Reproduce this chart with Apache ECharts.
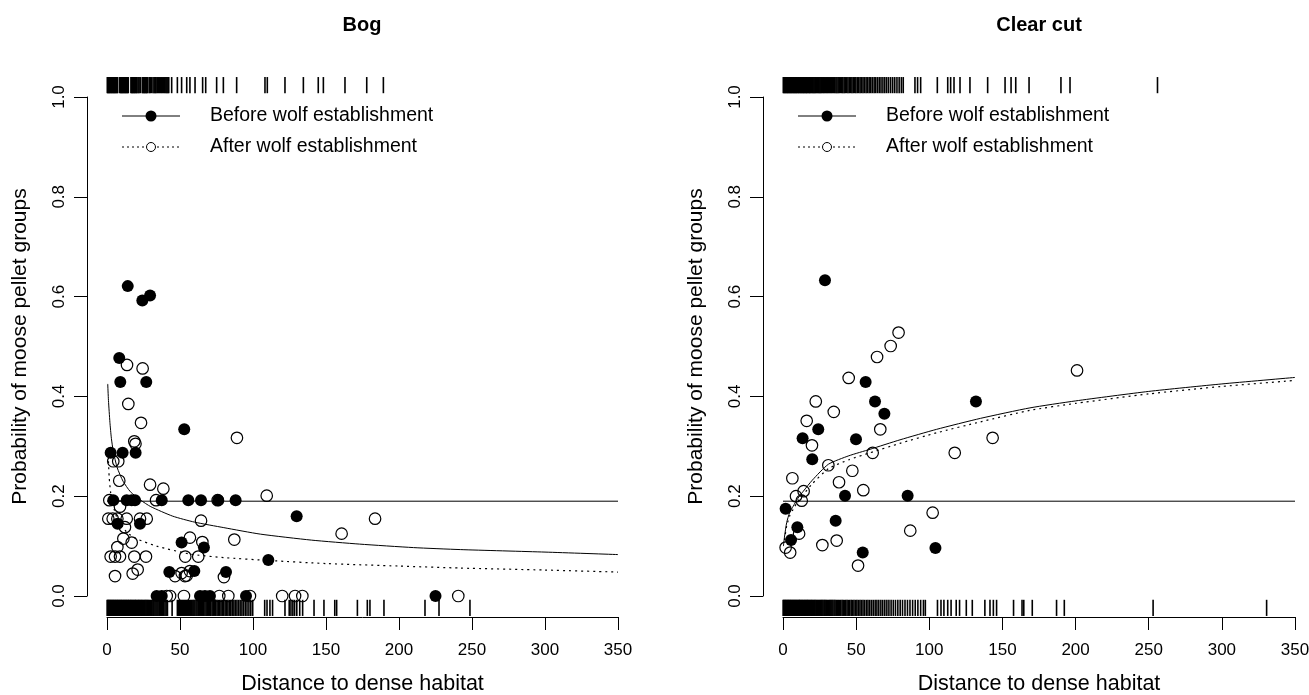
<!DOCTYPE html>
<html>
<head>
<meta charset="utf-8">
<script src="https://cdn.jsdelivr.net/npm/echarts@6/dist/echarts.min.js"></script>
<style>
  html, body { margin: 0; padding: 0; background: #fff; }
  #chart { width: 1309px; height: 695px; }
</style>
</head>
<body>
<div id="chart"></div>
<script>
// ---- Bog ----
const bogBefore = [
  [2.5,0.287],[10.7,0.287],[19.6,0.287],[14.2,0.621],[24.2,0.592],[29.5,0.602],[8.4,0.477],[9.1,0.429],[26.9,0.429],[52.9,0.334],
  [4.3,0.192],[13.5,0.192],[16.9,0.192],[19.2,0.192],[37.5,0.192],[55.7,0.192],[64.4,0.192],[76.2,0.192],[88.1,0.192],
  [7.3,0.145],[22.6,0.145],[129.9,0.16],[51.1,0.107],[66.4,0.097],[110.5,0.072],[42.7,0.048],[59.8,0.05],[81.5,0.048],
  [34,0],[37.5,0],[63.7,0],[67.1,0],[70.5,0],[95.2,0],[225,0]
];
const bogAfter = [
  [13.7,0.463],[24.4,0.456],[14.6,0.385],[23.3,0.347],[18.7,0.31],[19.5,0.305],[89,0.317],
  [4.3,0.27],[7.7,0.27],[8.4,0.231],[29.5,0.223],[38.6,0.215],[109.4,0.201],
  [1.6,0.192],[33.6,0.192],[75.8,0.192],[8.9,0.179],
  [0.9,0.155],[3.9,0.155],[7.1,0.155],[13.5,0.155],[22.6,0.155],[27.2,0.155],[64.4,0.151],[183.6,0.155],
  [12.3,0.138],[11.2,0.115],[16.9,0.107],[7.1,0.098],[56.8,0.117],[87.2,0.113],[65.3,0.108],[160.7,0.125],
  [2.5,0.079],[5.5,0.079],[8.9,0.079],[18.7,0.079],[26.7,0.079],[53.6,0.079],[62.5,0.079],
  [21,0.053],[17.6,0.045],[5.5,0.04],[46.6,0.04],[51.1,0.046],[53.4,0.04],[54.6,0.041],[56.8,0.05],[80.1,0.038],
  [40.9,0],[43.2,0],[52.7,0],[76.9,0],[83.1,0],[97.9,0],[120,0],[128.8,0],[133.8,0],[240.6,0]
];
const bogCurveBefore = [
  [0.5,0.425],[1,0.392],[2,0.348],[3,0.316],[4.3,0.29],[7,0.257],[11,0.23],[16,0.209],[22.6,0.193],[30,0.179],
  [45,0.16],[60,0.148],[80,0.137],[105,0.124],[140,0.112],[173,0.104],[210,0.097],[242,0.093],[300,0.088],[350,0.083]
];
const bogCurveAfter = [
  [1,0.27],[1.5,0.238],[2.5,0.207],[4.3,0.18],[7,0.156],[13.5,0.128],[20,0.115],[34,0.1],[57,0.084],
  [80,0.077],[112,0.071],[150,0.065],[200,0.06],[242,0.056],[300,0.052],[350,0.048]
];
const bogRugTop = [
  0.2,0.6,1.0,1.4,1.9,2.3,2.8,3.2,3.7,4.1,4.6,5.0,5.5,5.9,6.4,6.9,7.3,8.7,9.2,9.6,10.1,10.5,11.0,11.4,
  11.9,12.3,12.8,13.2,13.7,14.2,14.6,16.4,16.9,17.3,17.8,18.2,18.7,19.1,19.6,20.1,20.5,21.3,22.0,22.9,
  24.2,24.6,25.1,25.5,26.0,26.4,26.9,27.3,27.8,28.9,29.6,30.4,31.5,32.3,33.0,33.6,34.4,35.2,35.9,36.7,
  37.4,38.1,38.9,39.5,40.3,41.0,41.7,42.3,
  44.3,48.2,51.1,54.6,56.8,60.3,65.5,67.6,75.1,79.7,88.8,108.2,109.8,121.9,134.5,144.7,148.2,163,177.9,189.3
];
const bogRugBottom = [
  0.1,0.5,0.9,1.3,1.7,2.1,2.6,3.0,3.4,3.9,4.3,4.8,5.2,5.7,6.1,6.6,7.0,7.5,7.9,8.4,8.9,9.3,9.8,10.2,10.7,
  11.2,11.6,12.1,12.6,13.0,13.5,14.0,14.5,14.9,15.4,15.9,16.4,16.8,17.3,17.8,18.3,18.8,19.3,19.7,20.2,
  20.7,21.3,21.8,22.3,22.8,23.4,23.9,24.5,25.0,25.6,26.1,26.7,27.3,27.9,28.4,29.0,29.7,30.3,30.9,31.6,
  32.2,32.9,33.6,34.3,35.0,35.8,36.5,37.3,38.0,38.8,39.7,40.5,41.4,44.6,48.2,48.9,49.6,50.3,51.0,51.7,
  52.4,53.1,53.8,54.5,55.2,55.9,56.6,57.3,58.0,58.8,59.5,60.2,61.0,61.7,62.5,63.2,64.0,64.8,65.5,66.3,
  67.1,67.9,68.7,69.5,70.3,71.1,72.0,72.8,73.7,74.5,75.4,76.3,77.2,78.1,79.0,79.9,80.9,81.8,82.8,83.8,
  84.8,85.8,86.9,87.9,89.0,90.1,91.2,92.4,93.5,94.7,95.9,97.2,98.5,99.8,
  108,109.6,111.6,113.4,121.9,124.8,126,127.3,128.5,130,132,134,141.8,148.6,156,157.3,
  171.5,178.3,180.1,189.7,217.8,227.4,248.6
];

// ---- Clear cut ----
const cutBefore = [
  [28.7,0.633],[56.5,0.429],[62.9,0.39],[69.3,0.365],[131.9,0.39],[24.1,0.334],[13.4,0.316],[49.9,0.314],
  [20,0.274],[42.4,0.201],[85.2,0.201],[1.8,0.175],[36,0.151],[9.8,0.138],[5.5,0.112],[54.5,0.087],[104.2,0.096]
];
const cutAfter = [
  [79,0.528],[73.6,0.501],[64.3,0.479],[44.9,0.437],[22.4,0.39],[34.7,0.369],[16.2,0.351],[66.5,0.334],
  [19.8,0.302],[61.3,0.287],[117.4,0.287],[143.3,0.317],[201,0.452],[31,0.262],[47.4,0.251],[6.4,0.236],
  [38.3,0.228],[54.9,0.212],[14.1,0.21],[8.9,0.2],[12.8,0.191],[102.3,0.167],[11,0.125],[87,0.131],
  [36.7,0.111],[26.9,0.102],[1.8,0.097],[4.9,0.087],[51.3,0.061]
];
const cutCurveBefore = [
  [0.3,0.1],[1,0.118],[2.5,0.147],[4.5,0.167],[7,0.18],[10,0.195],[13.9,0.21],[20,0.232],[31,0.264],
  [45,0.281],[59.5,0.294],[80,0.313],[105,0.334],[135,0.356],[168.8,0.377],[200,0.391],[250,0.41],[300,0.425],[350,0.438]
];
const cutCurveAfter = [
  [1,0.112],[2.5,0.14],[4.5,0.16],[7,0.174],[10,0.189],[13.9,0.203],[20,0.225],[31,0.255],
  [45,0.273],[59.5,0.287],[80,0.306],[105,0.327],[135,0.349],[168.8,0.372],[200,0.386],[250,0.405],[300,0.42],[350,0.432]
];
const cutRugTop = [
  0.2,0.7,1.1,1.6,2.0,2.5,2.9,3.4,3.8,4.3,4.8,5.2,5.7,6.1,6.6,7.1,7.5,8.0,8.5,8.9,9.4,9.9,10.4,10.8,11.3,
  11.8,12.3,12.8,13.3,13.8,14.3,14.8,15.3,15.8,16.3,16.8,17.4,17.9,18.4,19.0,19.5,20.1,20.6,21.2,21.8,
  22.3,22.9,23.5,24.1,24.7,25.3,25.9,26.5,27.2,27.8,28.4,29.1,29.8,30.4,31.1,31.8,32.5,33.2,33.9,34.7,
  35.4,36.2,36.9,37.7,38.5,39.3,40.1,40.9,41.8,42.6,43.5,44.4,45.3,46.2,47.1,48.0,48.9,49.8,50.8,51.7,
  52.7,53.7,54.7,55.7,56.8,57.8,58.9,60.0,61.1,62.3,63.4,64.6,65.8,67.0,68.3,69.6,70.9,72.2,73.6,75.0,
  76.4,77.9,79.4,80.9,82.2,
  90.2,92,94.1,105.5,112.6,114.6,116.9,121,127.8,139.9,151.8,155.9,159.1,168.2,190,196.2,256
];
const cutRugBottom = [
  0.1,0.5,1.0,1.4,1.8,2.3,2.7,3.2,3.6,4.1,4.5,5.0,5.4,5.9,6.3,6.8,7.3,7.7,8.2,8.7,9.1,9.6,10.1,10.6,11.0,
  11.5,12.0,12.5,13.0,13.5,14.0,14.5,15.0,15.5,16.0,16.5,17.0,17.6,18.1,18.6,19.2,19.7,20.3,20.8,21.4,
  21.9,22.5,23.1,23.7,24.3,24.9,25.5,26.1,26.7,27.3,28.0,28.6,29.3,29.9,30.6,31.3,32.0,32.7,33.4,34.1,
  34.9,35.6,36.4,37.2,37.9,38.7,39.5,40.4,41.2,42.1,42.9,43.8,44.7,45.6,46.6,47.5,48.5,49.5,50.5,51.5,
  52.6,53.6,54.7,55.8,57.0,58.1,59.3,60.5,61.7,63.0,64.2,65.5,66.9,68.2,69.6,71.0,72.4,73.9,75.4,76.9,
  78.5,80.1,81.7,83.4,85.1,86.8,88.6,90.4,92.2,94.1,96.0,97.3,
  105.6,108,110,112.6,114.9,118.4,120.7,125.3,129.4,138,141.5,143.8,146,157.6,
  163.4,164.6,170.4,187,192.3,253,330.6
];

const refLine = [[0,0.19],[350,0.19]];
const panelTitles = ['Bog', 'Clear cut'];
const legendLabels = ['Before wolf establishment', 'After wolf establishment'];
const xName = 'Distance to dense habitat';
const yName = 'Probability of moose pellet groups';

const FONT = 'Liberation Sans, Arial, Helvetica, sans-serif';
const chart = echarts.init(document.getElementById('chart'), null, { renderer: 'canvas' });

const grids = [
  { left: 107, top: 97, width: 511, height: 499, containLabel: false, outerBoundsMode: 'none' },
  { left: 783, top: 97, width: 512, height: 499, containLabel: false, outerBoundsMode: 'none' }
];

function rug(i, values, y0, y1) {
  return {
    type: 'custom', xAxisIndex: i, yAxisIndex: i, silent: true, clip: false, z: 1,
    data: values.map(v => [v, 0]),
    encode: { x: 0, y: 1 },
    renderItem: (params, api) => {
      const a = api.coord([api.value(0), y0]);
      const b = api.coord([api.value(0), y1]);
      return {
        type: 'line',
        shape: { x1: a[0], y1: a[1], x2: a[0], y2: b[1] },
        style: { stroke: '#000', lineWidth: 1.6 }
      };
    }
  };
}

function panelSeries(i, before, after, curveB, curveA, rugTop, rugBottom) {
  return [
    rug(i, rugTop, 1.04, 1.0076),
    rug(i, rugBottom, -0.04, -0.0076),
    { type: 'line', xAxisIndex: i, yAxisIndex: i, data: refLine, symbol: 'none', silent: true,
      lineStyle: { color: '#000', width: 1 } },
    { type: 'line', xAxisIndex: i, yAxisIndex: i, data: curveB, symbol: 'none', smooth: 0.2, silent: true,
      lineStyle: { color: '#000', width: 1 } },
    { type: 'line', xAxisIndex: i, yAxisIndex: i, data: curveA, symbol: 'none', smooth: 0.2, silent: true,
      lineStyle: { color: '#000', width: 1.2, type: [2, 4] } },
    { type: 'scatter', xAxisIndex: i, yAxisIndex: i, data: before, symbol: 'circle', symbolSize: 12, z: 3,
      itemStyle: { color: '#000', opacity: 1 } },
    { type: 'scatter', xAxisIndex: i, yAxisIndex: i, data: after, symbol: 'circle', symbolSize: 11.5, z: 4,
      itemStyle: { color: 'rgba(0,0,0,0)', borderColor: '#000', borderWidth: 1.2, opacity: 1 } }
  ];
}

function xAxis(i) {
  return {
    gridIndex: i, type: 'value', min: 0, max: 350, interval: 50, offset: 21,
    name: xName, nameLocation: 'middle', nameGap: 56,
    nameTextStyle: { fontFamily: FONT, fontSize: 21.5, color: '#000' },
    axisLine: { onZero: false, lineStyle: { color: '#000', width: 1 } },
    axisTick: { length: 13, lineStyle: { color: '#000' } },
    axisLabel: { fontFamily: FONT, fontSize: 17, color: '#000', margin: 25 },
    splitLine: { show: false }
  };
}

function yAxis(i) {
  return {
    gridIndex: i, type: 'value', min: 0, max: 1, interval: 0.2, offset: 20,
    name: yName, nameLocation: 'middle', nameGap: 56,
    nameTextStyle: { fontFamily: FONT, fontSize: 21, color: '#000' },
    axisLine: { show: true, onZero: false, lineStyle: { color: '#000', width: 1 } },
    axisTick: { show: true, length: 13, lineStyle: { color: '#000' } },
    axisLabel: { fontFamily: FONT, fontSize: 17, color: '#000', rotate: 90, margin: 19,
      formatter: v => v.toFixed(1) },
    splitLine: { show: false }
  };
}

function legendGraphics(x0, yTop) {
  const lx1 = x0 + 35, lx2 = x0 + 93, cx = x0 + 64, tx = x0 + 123;
  const y1 = yTop, y2 = yTop + 31;
  return [
    { type: 'line', shape: { x1: lx1, y1: y1, x2: lx2, y2: y1 }, style: { stroke: '#000', lineWidth: 1 } },
    { type: 'circle', shape: { cx: cx, cy: y1, r: 5.5 }, style: { fill: '#000' } },
    { type: 'text', x: tx, y: y1, style: { text: legendLabels[0], font: '19.5px ' + FONT, fill: '#000',
      textAlign: 'left', textVerticalAlign: 'middle' } },
    { type: 'line', shape: { x1: lx1, y1: y2, x2: cx - 6, y2: y2 }, style: { stroke: '#000', lineWidth: 1, lineDash: [2, 3] } },
    { type: 'line', shape: { x1: cx + 6, y1: y2, x2: lx2, y2: y2 }, style: { stroke: '#000', lineWidth: 1, lineDash: [2, 3] } },
    { type: 'circle', shape: { cx: cx, cy: y2, r: 4.5 }, style: { fill: 'none', stroke: '#000', lineWidth: 1 } },
    { type: 'text', x: tx, y: y2, style: { text: legendLabels[1], font: '19.5px ' + FONT, fill: '#000',
      textAlign: 'left', textVerticalAlign: 'middle' } }
  ];
}

const option = {
  animation: false,
  backgroundColor: '#fff',
  grid: grids,
  xAxis: [xAxis(0), xAxis(1)],
  yAxis: [yAxis(0), yAxis(1)],
  graphic: [
    { type: 'text', x: 362, y: 25, style: { text: panelTitles[0], font: 'bold 20px ' + FONT, fill: '#000',
      textAlign: 'center', textVerticalAlign: 'middle' } },
    { type: 'text', x: 1039, y: 25, style: { text: panelTitles[1], font: 'bold 20px ' + FONT, fill: '#000',
      textAlign: 'center', textVerticalAlign: 'middle' } },
    ...legendGraphics(87, 116),
    ...legendGraphics(763, 116)
  ],
  series: [
    ...panelSeries(0, bogBefore, bogAfter, bogCurveBefore, bogCurveAfter, bogRugTop, bogRugBottom),
    ...panelSeries(1, cutBefore, cutAfter, cutCurveBefore, cutCurveAfter, cutRugTop, cutRugBottom)
  ]
};

chart.setOption(option);
</script>
</body>
</html>
